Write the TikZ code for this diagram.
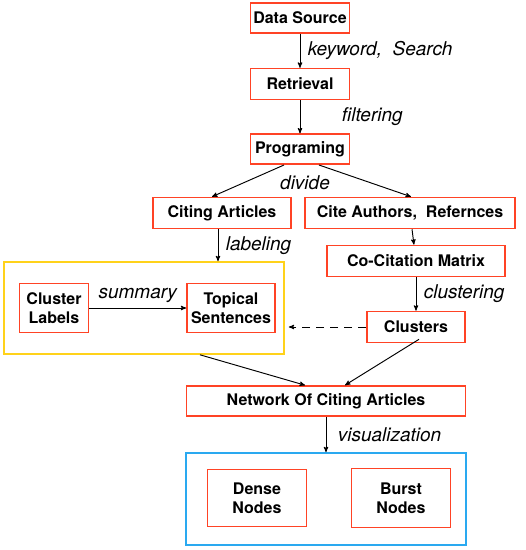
\documentclass[tikz,border=0pt]{standalone}
\usepackage{fontspec}
\setmainfont{TeX Gyre Heros}
\usepackage{xcolor}
\usepackage{tikz}
\usetikzlibrary{positioning}
\usetikzlibrary{arrows}
\definecolor{boxred}{HTML}{FF4325}
\definecolor{boxyellow}{HTML}{FFD21A}
\definecolor{boxblue}{HTML}{2AA9F0}
\begin{document}
\begin{tikzpicture}[x=1pt,y=-1pt,->,>=stealth',line width=0.95pt,
                    stage/.style={draw=boxred,line width=1.6pt,fill=white,inner sep=2pt,
                      font=\fontsize{16}{19.5}\selectfont\bfseries,align=center},
                    frame/.style={draw=#1,line width=1.6pt,minimum width=280pt,minimum height=92pt},
                    lbl/.style={font=\fontsize{19}{22}\selectfont\itshape}]
\useasboundingbox (0,0) rectangle (526,550);
\node[stage,minimum width=99pt,minimum height=30pt] (ds) at (300,18) {Data Source};
\node[stage,minimum width=99pt,minimum height=31pt,below=34pt of ds] (ret) {Retrieval};
\node[stage,minimum width=99pt,minimum height=30pt,below=33pt of ret] (prog) {Programing};
\node[stage,minimum width=138pt,minimum height=31pt] (citing) at (222,213) {Citing Articles};
\node[stage,minimum width=210pt,minimum height=31pt] (cite) at (410,213) {Cite Authors,~~Refernces};
\node[stage,minimum width=178pt,minimum height=31pt] (cocit) at (416,261) {Co-Citation Matrix};
\node[stage,minimum width=98pt,minimum height=31pt] (clus) at (416,327) {Clusters};
\node[frame=boxyellow] (ybox) at (144,308) {};
\node[stage,minimum width=69pt,minimum height=49pt] (labels) at (54,308) {Cluster\\Labels};
\node[stage,minimum width=88pt,minimum height=49pt] (topic) at (231,308) {Topical\\Sentences};
\node[stage,minimum width=279pt,minimum height=30pt] (net) at (326,401) {Network Of Citing Articles};
\node[frame=boxblue] (bbox) at (326,499) {};
\node[stage,minimum width=99pt,minimum height=57pt] (dense) at (257,498) {Dense\\Nodes};
\node[stage,minimum width=99pt,minimum height=59pt] (burst) at (401,498) {Burst\\Nodes};
% top chain
\path (ds) edge node[lbl,right=4pt] {keyword,~~Search} (ret)
      (ret) edge node[lbl,right=38pt] {filtering} (prog);
\draw ([xshift=-16pt]prog.south) -- ([xshift=-10pt]citing.north);
\draw ([xshift=19pt]prog.south) -- ([xshift=1pt]cite.north);
\node[lbl] at (305,183) {divide};
% left branch
\draw ([xshift=-4pt]citing.south) -- node[lbl,right=4pt] {labeling} ([xshift=-4pt]citing.south |- ybox.north);
\draw (labels.east) -- node[lbl,above=2pt] {summary} (topic.west);
% right branch
\draw (cite) -- (cocit);
\path (cocit) edge node[lbl,right=4pt] {clustering} (clus);
\draw[dashed,dash pattern=on 8pt off 6pt] (clus.west) -- ([xshift=4pt]ybox.east |- clus.west);
% merge
\draw ([xshift=56pt]ybox.south) -- ([xshift=-21pt]net.north);
\draw ([xshift=3pt,yshift=4pt]clus.south) -- ([xshift=19pt]net.north);
\draw (net.south) -- node[lbl,right=8pt] {visualization} (bbox.north);
\end{tikzpicture}
\end{document}
